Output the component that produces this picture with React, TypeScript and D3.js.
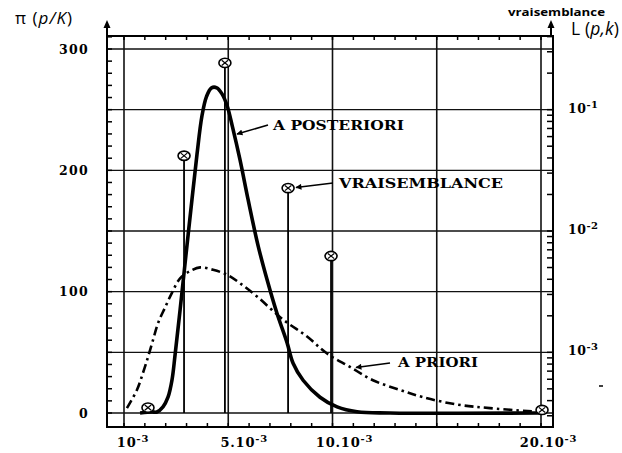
import React from "react";
import * as d3 from "d3";

const W = 622;
const H = 453;

// p in units of 1e-3
const priorP = [0.14, 0.62, 0.91, 1.15, 1.39, 1.63, 1.97, 2.3, 2.69, 3.17, 3.65, 4.27, 4.94, 5.56, 6.38, 7.63, 8.78, 9.74, 10.84, 11.94, 13.24, 14.34, 15.97, 17.55, 19.81];
const priorV = [4, 19, 33, 46, 60, 74, 87, 99, 111, 117, 120, 118, 114, 107, 96, 77, 63, 49, 38, 27, 19, 13, 7, 4, 1];

const postP = [0.77, 1.34, 1.58, 1.87, 2.11, 2.3, 2.45, 2.69, 2.97, 3.26, 3.5, 3.74, 3.96, 4.2, 4.45, 4.7, 4.95, 5.2, 5.56, 5.95, 6.43, 6.86, 7.34, 7.82, 8.11, 8.59, 9.4, 10.22, 11.18, 12.76, 20];
const postV = [0, 0.8, 0.8, 5, 13, 27, 48, 85, 130, 176, 213, 245, 261, 268, 268, 263, 253, 236, 209, 176, 138, 110, 82, 58, 41, 27, 13, 5, 1, 0, 0];

const likP = [1.15, 2.88, 4.84, 7.87, 9.93, 20.05];
const likL = [3.5e-4, 0.0417, 0.243, 0.0226, 0.00622, 3.35e-4];

const leftTicks = [0, 100, 200, 300];
const hGrid = [0, 50, 100, 150, 200, 250, 300];
const vGrid = [0, 5, 10, 15, 20];
const xTickVals = [0, 5, 10, 20];
const xTickBase = ["10", "5.10", "10.10", "20.10"];
const xTickSup = ["-3", "-3", "-3", "-3"];
const rightTickVals = [1e-1, 1e-2, 1e-3];
const rightTickSup = ["-1", "-2", "-3"];

// layout constants
const frame = { left: 107, right: 553, top: 36, bottom: 427 };
const xLabelShift = [9, 16, 12, 7.5];

const serif = "'DejaVu Serif', 'Liberation Serif', serif";
const sans = "'Open Sans', 'Noto Sans', sans-serif";

export default function App() {
  const x = d3.scaleLinear().domain([0, 20]).range([124, 541]);
  const y = d3.scaleLinear().domain([0, 300]).range([413, 49]);
  const yR = d3.scaleLog().domain([1e-3, 1e-1]).range([y(50), y(250)]);

  const line = d3
    .line<[number, number]>()
    .x((d) => x(d[0]))
    .y((d) => y(d[1]))
    .curve(d3.curveCatmullRom.alpha(0.5));

  const priorPath = line(priorP.map((p, i) => [p, priorV[i]]) as [number, number][]) || "";
  const postPath = line(postP.map((p, i) => [p, postV[i]]) as [number, number][]) || "";

  const xMinor = d3.range(0, 21, 1);
  const yMinor = d3.range(0, 311, 10);
  const lMin = yR.invert(frame.bottom);
  const lMax = yR.invert(frame.top);
  const rMinor: number[] = [];
  for (let e = -4; e <= 0; e++) {
    for (let m = 1; m <= 9; m++) {
      const v = m * Math.pow(10, e);
      if (v >= lMin && v <= lMax) rMinor.push(v);
    }
  }

  const gridStroke = "#111";

  return (
    <svg width={W} height={H} style={{ position: "absolute", left: 0, top: 0, background: "#fff" }}>
      <defs>
        <marker id="ah" viewBox="0 0 10 10" refX="9" refY="5" markerWidth="7" markerHeight="6" orient="auto" markerUnits="userSpaceOnUse">
          <path d="M0,0 L10,5 L0,10 z" fill="#000" />
        </marker>
      </defs>
      <rect x={0} y={0} width={W} height={H} fill="#fff" />

      {hGrid.map((v) => (
        <line key={"h" + v} x1={frame.left} x2={frame.right} y1={y(v)} y2={y(v)} stroke={gridStroke} strokeWidth={1.4} />
      ))}
      {vGrid.map((v) => (
        <line key={"v" + v} x1={x(v)} x2={x(v)} y1={frame.top} y2={frame.bottom} stroke={gridStroke} strokeWidth={1.6} />
      ))}

      <rect x={frame.left} y={frame.top} width={frame.right - frame.left} height={frame.bottom - frame.top} fill="none" stroke="#000" strokeWidth={2} />
      <line x1={frame.left} x2={frame.left} y1={frame.top} y2={24} stroke="#000" strokeWidth={2} />
      <path d={`M${frame.left - 3.5},${28} L${frame.left},${20} L${frame.left + 3.5},${28} Z`} fill="#000" />
      <line x1={frame.right - 2} x2={frame.right - 2} y1={frame.top} y2={24} stroke="#000" strokeWidth={2} />
      <path d={`M${frame.right - 5.5},${28} L${frame.right - 2},${20} L${frame.right + 1.5},${28} Z`} fill="#000" />

      {xMinor.map((v) => (
        <g key={"xt" + v}>
          <line x1={x(v)} x2={x(v)} y1={frame.top} y2={frame.top + 4} stroke="#000" strokeWidth={1.5} />
          <line x1={x(v)} x2={x(v)} y1={frame.bottom} y2={frame.bottom - 4} stroke="#000" strokeWidth={1.5} />
        </g>
      ))}
      {yMinor.map((v) => (
        <line key={"yt" + v} x1={frame.left} x2={frame.left + 5} y1={y(v)} y2={y(v)} stroke="#000" strokeWidth={1.5} />
      ))}
      {rMinor.map((v, i) => (
        <line key={"rt" + i} x1={frame.right} x2={frame.right - 6} y1={yR(v)} y2={yR(v)} stroke="#000" strokeWidth={1.5} />
      ))}

      <path d={priorPath} fill="none" stroke="#000" strokeWidth={2.6} strokeDasharray="9 4 2.5 4" />
      <path d={postPath} fill="none" stroke="#000" strokeWidth={3.6} strokeLinejoin="round" />

      {likP.map((p, i) => {
        const cx = x(p);
        const cy = yR(likL[i]);
        return (
          <g key={"lk" + i}>
            <line x1={cx} x2={cx} y1={cy + 4.5} y2={y(0)} stroke="#000" strokeWidth={1.8} />
            <ellipse cx={cx} cy={cy} rx={6} ry={4.6} fill="#fff" stroke="#000" strokeWidth={1.6} />
            <line x1={cx - 3.2} x2={cx + 3.2} y1={cy - 2.6} y2={cy + 2.6} stroke="#000" strokeWidth={1.2} />
            <line x1={cx - 3.2} x2={cx + 3.2} y1={cy + 2.6} y2={cy - 2.6} stroke="#000" strokeWidth={1.2} />
          </g>
        );
      })}

      {leftTicks.map((v) => (
        <text key={"ll" + v} x={89} y={y(v) + 4.5} textAnchor="end" fontFamily={serif} fontWeight="bold" fontSize={12.5} letterSpacing={1.3}>
          {v}
        </text>
      ))}
      {xTickVals.map((v, i) => (
        <text key={"xl" + v} x={x(v) + xLabelShift[i]} y={447} textAnchor="middle" fontFamily={serif} fontWeight="bold" fontSize={13} letterSpacing={0.8}>
          <tspan>{xTickBase[i]}</tspan>
          <tspan dy={-5} fontSize={10}>{xTickSup[i]}</tspan>
        </text>
      ))}
      {rightTickVals.map((v, i) => (
        <text key={"rl" + i} x={568} y={yR(v) + 3} fontFamily={serif} fontWeight="bold" fontSize={12.5} letterSpacing={0.5}>
          <tspan>10</tspan>
          <tspan dy={-5} fontSize={10}>{rightTickSup[i]}</tspan>
        </text>
      ))}
      <line x1={599} x2={603} y1={386} y2={386} stroke="#000" strokeWidth={1.5} />

      <text x={15} y={24} fontFamily={sans} fontSize={17} textLength={57} lengthAdjust="spacing">
        π (<tspan fontStyle="italic">p/K</tspan>)
      </text>
      <text x={571} y={35} fontFamily={sans} fontSize={17.5} textLength={48} lengthAdjust="spacing">
        L (<tspan fontStyle="italic">p,k</tspan>)
      </text>
      <text x={508} y={16} fontFamily={sans} fontWeight="bold" fontSize={10.5} textLength={97} lengthAdjust="spacingAndGlyphs">
        vraisemblance
      </text>

      <text x={273} y={130} fontFamily={serif} fontWeight="bold" fontSize={12} textLength={131} lengthAdjust="spacingAndGlyphs">
        A POSTERIORI
      </text>
      <line x1={268} y1={125} x2={237} y2={134} stroke="#000" strokeWidth={1.6} markerEnd="url(#ah)" />
      <text x={339} y={188} fontFamily={serif} fontWeight="bold" fontSize={13} textLength={164} lengthAdjust="spacingAndGlyphs">
        VRAISEMBLANCE
      </text>
      <line x1={333} y1={183} x2={296} y2={187.5} stroke="#000" strokeWidth={1.6} markerEnd="url(#ah)" />
      <text x={398} y={367} fontFamily={serif} fontWeight="bold" fontSize={12} textLength={80} lengthAdjust="spacingAndGlyphs">
        A PRIORI
      </text>
      <line x1={390} y1={363} x2={356} y2={367.5} stroke="#000" strokeWidth={1.6} markerEnd="url(#ah)" />
    </svg>
  );
}
